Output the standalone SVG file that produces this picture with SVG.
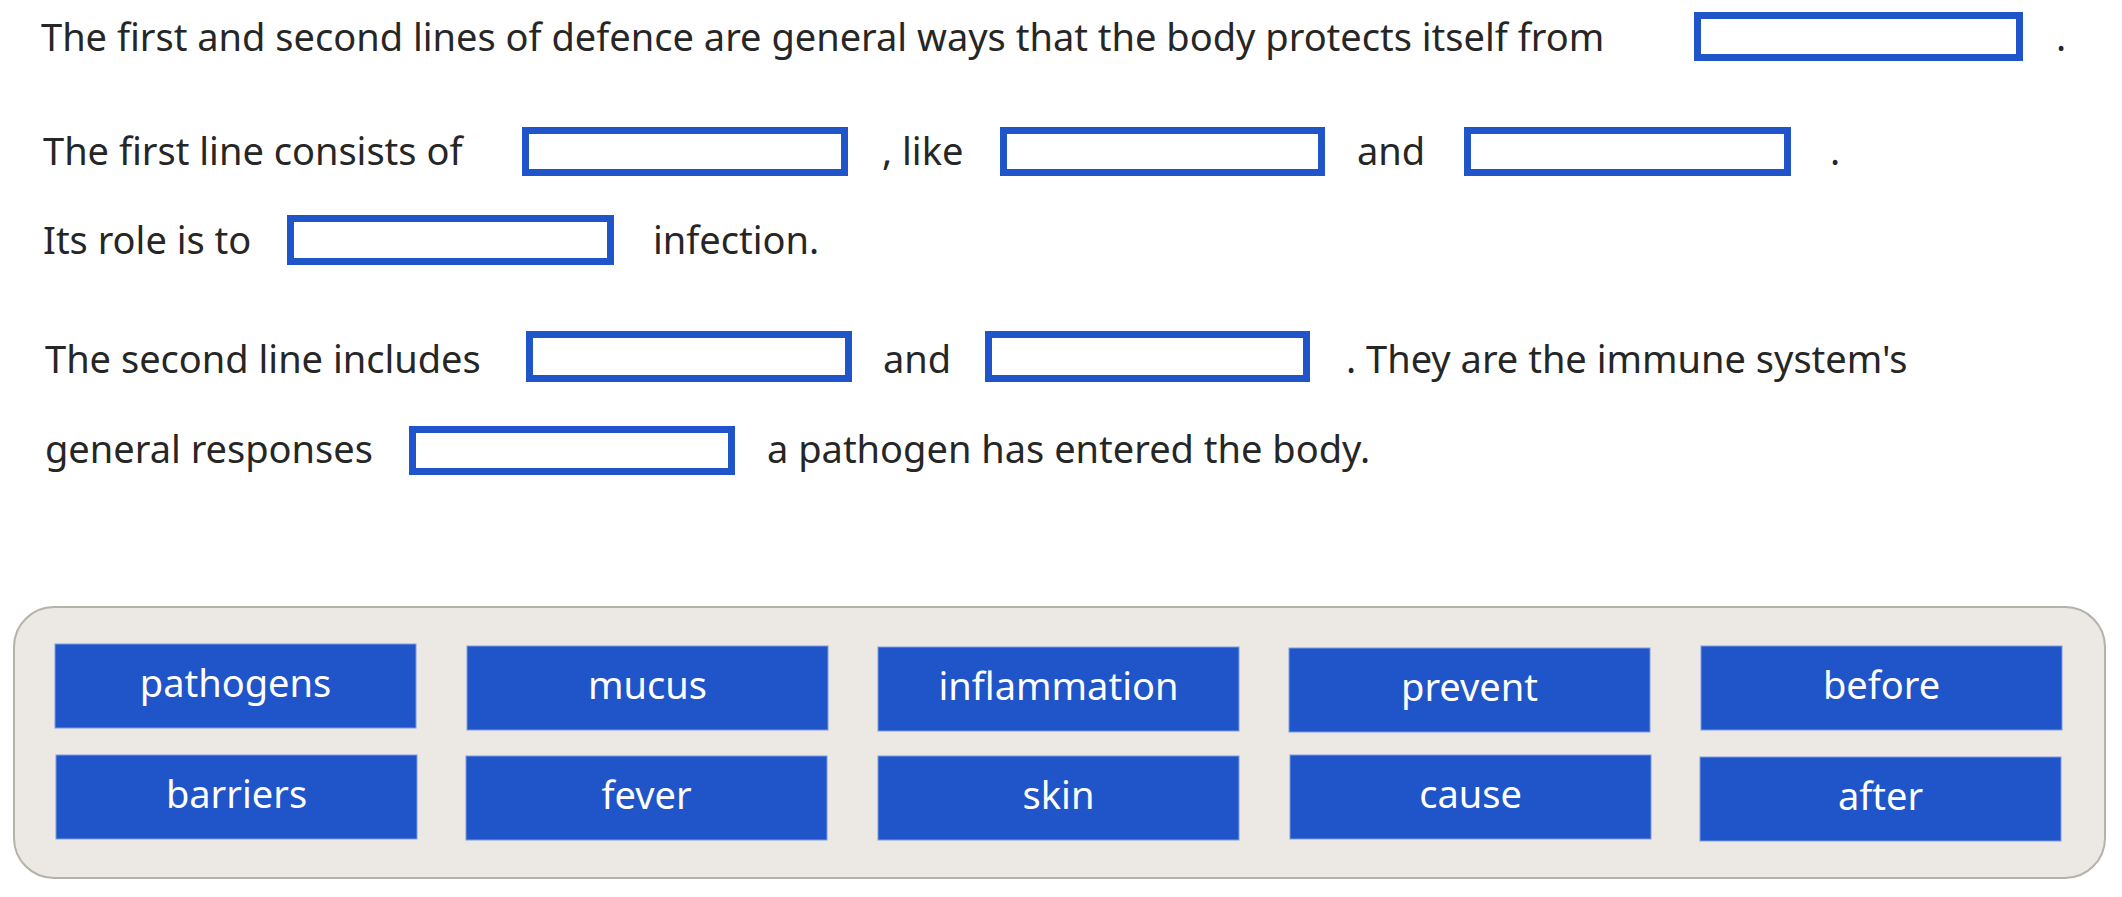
<svg xmlns="http://www.w3.org/2000/svg" width="2122" height="897" viewBox="0 0 2122 897">
<style>
.t{font-family:"Noto Sans","Open Sans",sans-serif;font-size:38px;fill:#262626}
.b{fill:#fff;stroke:#1f55c9;stroke-width:7}
.tile{fill:#1f55c9;stroke:#7e9ce0;stroke-width:1}
.tt{font-family:"Noto Sans","Open Sans",sans-serif;font-size:38px;fill:#fff;text-anchor:middle}
</style>
<rect width="2122" height="897" fill="#fff"/>
<g id="text">
<text class="t" x="41" y="51">The first and second lines of defence are general ways that the body protects itself from</text>
<text class="t" x="2056" y="51">.</text>
<text class="t" x="43" y="165">The first line consists of</text>
<text class="t" x="882" y="165">, like</text>
<text class="t" x="1357" y="165">and</text>
<text class="t" x="1830" y="165">.</text>
<text class="t" x="43" y="254">Its role is to</text>
<text class="t" x="653" y="254">infection.</text>
<text class="t" x="45" y="373">The second line includes</text>
<text class="t" x="883" y="373">and</text>
<text class="t" x="1346" y="373">. They are the immune system's</text>
<text class="t" x="45" y="463">general responses</text>
<text class="t" x="767" y="463">a pathogen has entered the body.</text>
</g>
<g id="blanks">
<rect class="b" x="1697.5" y="15.5" width="322" height="42"/>
<rect class="b" x="525.5" y="130.5" width="319" height="42"/>
<rect class="b" x="1003.5" y="130.5" width="318" height="42"/>
<rect class="b" x="1467.5" y="130.5" width="320" height="42"/>
<rect class="b" x="290.5" y="218.5" width="320" height="43"/>
<rect class="b" x="529.5" y="334.5" width="319" height="44"/>
<rect class="b" x="988.5" y="334.5" width="318" height="44"/>
<rect class="b" x="412.5" y="429.5" width="319" height="42"/>
</g>
<g id="bank">
<rect x="14" y="607" width="2091" height="271" rx="40" fill="#ece9e5" stroke="#b5b1ab" stroke-width="2"/>
</g>
<g id="tiles">
<g id="t1"><rect class="tile" x="55" y="644" width="361" height="84"/><text class="tt" x="235.5" y="697">pathogens</text></g>
<g id="t2"><rect class="tile" x="467" y="646" width="361" height="84"/><text class="tt" x="647.5" y="699">mucus</text></g>
<g id="t3"><rect class="tile" x="878" y="647" width="361" height="84"/><text class="tt" x="1058.5" y="700">inflammation</text></g>
<g id="t4"><rect class="tile" x="1289" y="648" width="361" height="84"/><text class="tt" x="1469.5" y="701">prevent</text></g>
<g id="t5"><rect class="tile" x="1701" y="646" width="361" height="84"/><text class="tt" x="1881.5" y="699">before</text></g>
<g id="t6"><rect class="tile" x="56" y="755" width="361" height="84"/><text class="tt" x="236.5" y="808">barriers</text></g>
<g id="t7"><rect class="tile" x="466" y="756" width="361" height="84"/><text class="tt" x="646.5" y="809">fever</text></g>
<g id="t8"><rect class="tile" x="878" y="756" width="361" height="84"/><text class="tt" x="1058.5" y="809">skin</text></g>
<g id="t9"><rect class="tile" x="1290" y="755" width="361" height="84"/><text class="tt" x="1470.5" y="808">cause</text></g>
<g id="t10"><rect class="tile" x="1700" y="757" width="361" height="84"/><text class="tt" x="1880.5" y="810">after</text></g>
</g>
<g id="connectors"/>
</svg>
